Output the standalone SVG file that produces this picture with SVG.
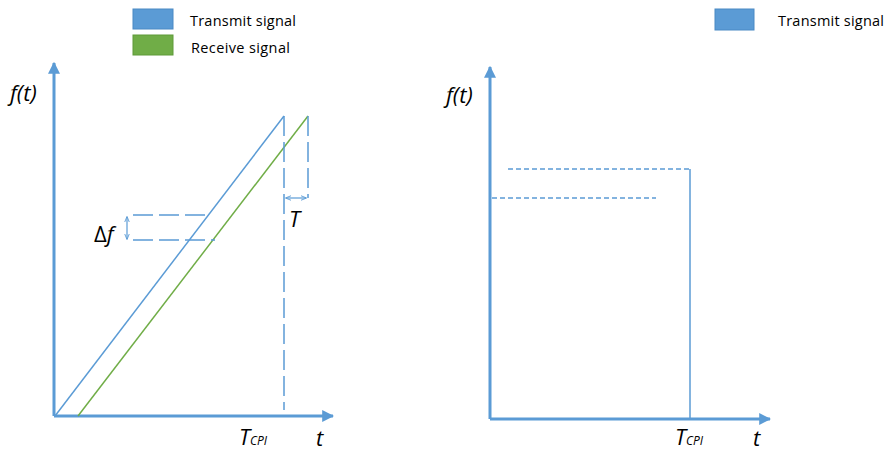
<svg xmlns="http://www.w3.org/2000/svg" width="886" height="453" viewBox="0 0 886 453">
<defs>
<marker id="ah" viewBox="0 0 10 10" refX="9" refY="5" markerWidth="4" markerHeight="4" orient="auto" markerUnits="strokeWidth"><path d="M0,0 L10,5 L0,10 z" fill="#5B9BD5"/></marker>
<marker id="sa" viewBox="0 0 10 10" refX="9" refY="5" markerWidth="6" markerHeight="6" orient="auto-start-reverse" markerUnits="userSpaceOnUse"><path d="M0,1 L10,5 L0,9" fill="none" stroke="#5B9BD5" stroke-width="1.5"/></marker>
<style>
.ax{stroke:#5B9BD5;stroke-width:3;fill:none}
.tx{stroke:#5B9BD5;stroke-width:1.5;fill:none}
.rx{stroke:#70AD47;stroke-width:1.5;fill:none}
.dl{stroke:#5B9BD5;stroke-width:1.5;fill:none;stroke-dasharray:20 6}
.ds{stroke:#5B9BD5;stroke-width:1.5;fill:none;stroke-dasharray:5 3}
.lg{font-family:"Open Sans","Liberation Sans",sans-serif;font-size:14.5px;fill:#000}
.it{font-family:"Open Sans","Liberation Sans",sans-serif;font-style:italic;fill:#000}
</style>
</defs>
<rect width="886" height="453" fill="#fff"/>
<g id="legend-left">
<rect x="133" y="9" width="40" height="20" fill="#5B9BD5" stroke="#4A89C4" stroke-width="1"/>
<text class="lg" x="190" y="26" textLength="106">Transmit signal</text>
<rect x="133" y="35" width="40" height="20" fill="#70AD47" stroke="#5E9A38" stroke-width="1"/>
<text class="lg" x="191" y="53" textLength="99">Receive signal</text>
</g>
<g id="legend-right">
<rect x="715" y="9" width="39" height="21" fill="#5B9BD5" stroke="#4A89C4" stroke-width="1"/>
<text class="lg" x="778" y="26" textLength="106">Transmit signal</text>
</g>
<g id="left-axes">
<line class="ax" x1="54" y1="416" x2="54" y2="63" marker-end="url(#ah)"/>
<line class="ax" x1="54" y1="416" x2="333" y2="416" marker-end="url(#ah)"/>
<text class="it" x="10" y="101" font-size="22">f(t)</text>
<text class="it" x="239" y="445" font-size="22">T<tspan font-size="12">CPI</tspan></text>
<text class="it" x="316" y="446" font-size="22">t</text>
</g>
<g id="left-signals">
<line class="tx" x1="55" y1="416" x2="284" y2="116"/>
<line class="rx" x1="78" y1="416" x2="308" y2="116"/>
</g>
<g id="left-annotations">
<line class="dl" x1="284" y1="116" x2="284" y2="410"/>
<line class="dl" x1="308" y1="116" x2="308" y2="198" stroke-dasharray="60 6 20"/>
<line x1="286" y1="198" x2="306" y2="198" stroke="#5B9BD5" stroke-width="1.2" marker-start="url(#sa)" marker-end="url(#sa)"/>
<text class="it" x="289" y="227" font-size="22">T</text>
<line class="dl" x1="133" y1="215" x2="208" y2="215"/>
<line class="dl" x1="133" y1="240" x2="215" y2="240"/>
<line x1="127" y1="217" x2="127" y2="239" stroke="#5B9BD5" stroke-width="1.2" marker-start="url(#sa)" marker-end="url(#sa)"/>
<text x="94" y="242" font-family="'Open Sans','Liberation Sans',sans-serif" font-size="22" fill="#000">Δ<tspan font-style="italic">f</tspan></text>
</g>
<g id="right-axes">
<line class="ax" x1="490" y1="419" x2="490" y2="67" marker-end="url(#ah)"/>
<line class="ax" x1="490" y1="419" x2="770" y2="419" marker-end="url(#ah)"/>
<text class="it" x="446" y="103" font-size="22">f(t)</text>
<text class="it" x="675" y="445" font-size="22">T<tspan font-size="12">CPI</tspan></text>
<text class="it" x="753" y="446" font-size="22">t</text>
</g>
<g id="right-signal">
<line class="ds" x1="508" y1="169" x2="690" y2="169"/>
<line class="tx" x1="690" y1="169" x2="690" y2="419"/>
<line class="ds" x1="492" y1="198" x2="656" y2="198"/>
</g>
</svg>
